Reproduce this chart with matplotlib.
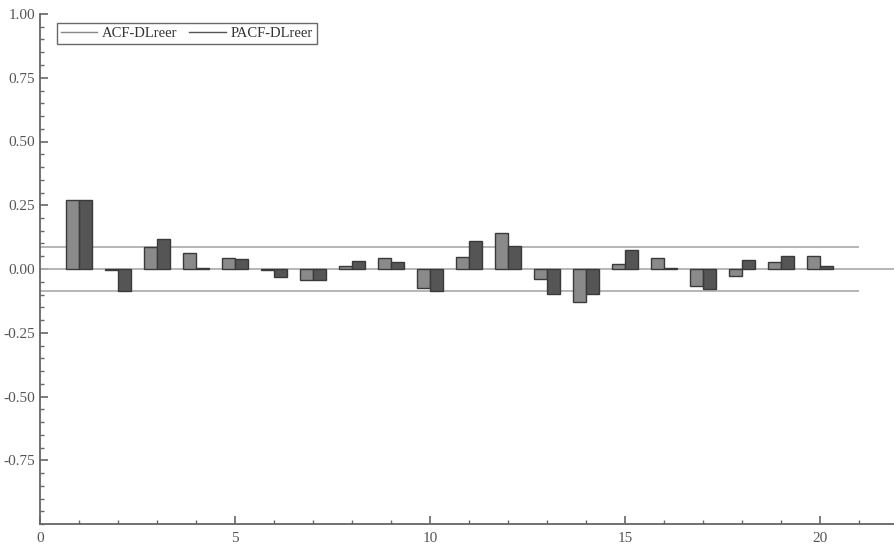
import numpy as np
import matplotlib
matplotlib.use('Agg')
import matplotlib.pyplot as plt
from matplotlib.lines import Line2D
from matplotlib.ticker import MultipleLocator, FixedLocator

# ACF / PACF of DLreer, lags 1..20
lags = np.arange(1, 21)
acf = [0.270, -0.005, 0.085, 0.062, 0.043, -0.005, -0.044, 0.013, 0.043, -0.073,
       0.046, 0.142, -0.038, -0.130, 0.020, 0.043, -0.065, -0.027, 0.027, 0.051]
pacf = [0.270, -0.086, 0.117, 0.005, 0.040, -0.030, -0.042, 0.031, 0.029, -0.086,
        0.110, 0.092, -0.099, -0.098, 0.073, 0.003, -0.079, 0.035, 0.051, 0.010]
conf_band = 0.088
series_labels = ['ACF-DLreer', 'PACF-DLreer']

plt.rcParams['font.family'] = ['Liberation Serif', 'DejaVu Serif']

fig = plt.figure(figsize=(8.94, 5.51), dpi=100)
ax = fig.add_axes([40 / 894, 27 / 551, 854 / 894, 510 / 551])

w = 0.33
edge = '#3a3a3a'
ax.bar(lags - w / 2, acf, width=w, color='#8a8a8a', edgecolor=edge, linewidth=1.0, zorder=3)
ax.bar(lags + w / 2, pacf, width=w, color='#555555', edgecolor=edge, linewidth=1.0, zorder=3)

# zero line and confidence band
ax.axhline(0, color='#b0b0b0', linewidth=1.3, zorder=2)
ax.hlines([conf_band, -conf_band], 0, 21, color='#b0b0b0', linewidth=1.3, zorder=2)

ax.set_xlim(0, 854 / 39)
ax.set_ylim(-1.0, 1.0)

ax.xaxis.set_major_locator(FixedLocator([0, 5, 10, 15, 20]))
ax.xaxis.set_minor_locator(MultipleLocator(1))
ax.yaxis.set_major_locator(FixedLocator([-0.75, -0.5, -0.25, 0, 0.25, 0.5, 0.75, 1.0]))
ax.yaxis.set_minor_locator(MultipleLocator(0.05))
ax.yaxis.set_major_formatter(matplotlib.ticker.FormatStrFormatter('%.2f'))

for s in ['top', 'right']:
    ax.spines[s].set_visible(False)
for s in ['left', 'bottom']:
    ax.spines[s].set_color('#666666')
    ax.spines[s].set_linewidth(1.3)

ax.tick_params(which='both', direction='in', color='#666666', labelcolor='#555555',
               labelsize=11)
ax.tick_params(axis='x', pad=6)
ax.tick_params(which='major', length=6, width=1.2)
ax.tick_params(which='minor', length=3, width=1.0)

handles = [Line2D([], [], color='#888888', linewidth=1.0),
           Line2D([], [], color='#555555', linewidth=1.0)]
leg = ax.legend(handles, series_labels, loc='upper left', bbox_to_anchor=(0.02, 0.982),
                ncol=2, fontsize=10.5, frameon=True, fancybox=False, handlelength=2.5,
                columnspacing=0.8, handletextpad=0.35, borderpad=0.25,
                borderaxespad=0.0, labelcolor='#333333')
leg.get_frame().set_edgecolor('#444444')
leg.get_frame().set_linewidth(1.0)

fig.savefig('out.png', dpi=100)
